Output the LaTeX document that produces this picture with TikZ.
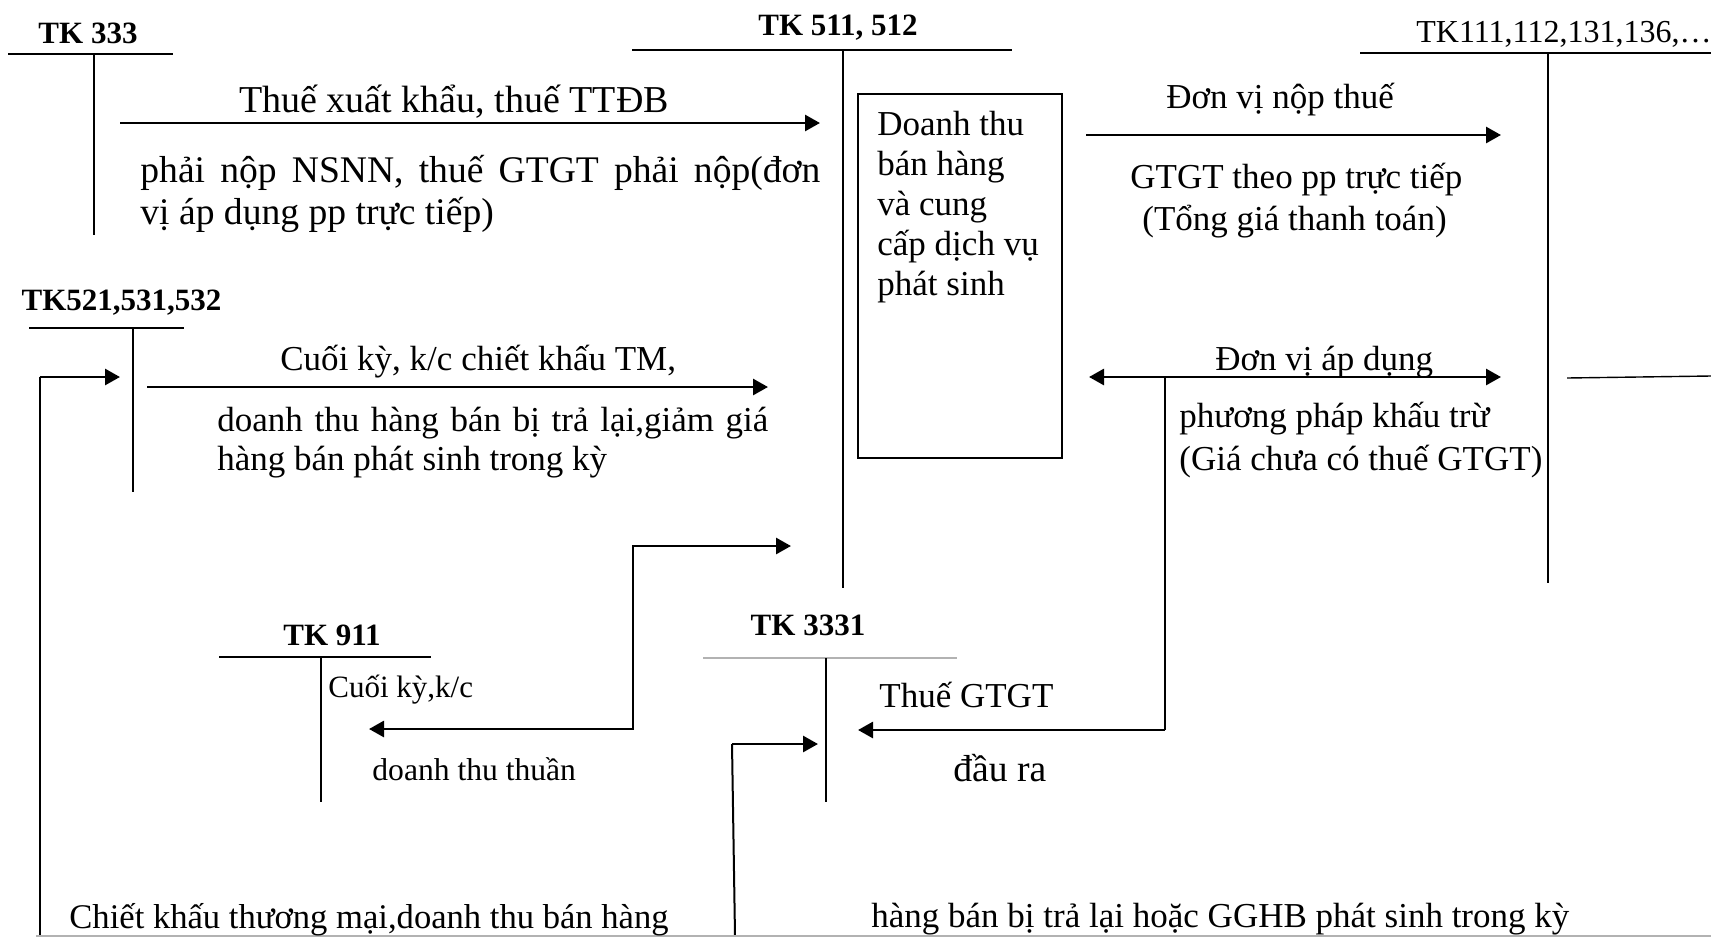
\documentclass[tikz,border=0pt]{standalone}
\usepackage{fontspec}
\setmainfont{Liberation Serif}
\usetikzlibrary{arrows.meta}
\begin{document}
\begin{tikzpicture}[x=0.5pt,y=-0.5pt,
  txt/.style={inner sep=0pt, anchor=base west, font=\fontsize{17.5}{21}\selectfont},
  big/.style={inner sep=0pt, anchor=base west, font=\fontsize{18.8}{22}\selectfont},
  small/.style={inner sep=0pt, anchor=base west, font=\fontsize{15.5}{19}\selectfont},
  acct/.style={inner sep=0pt, anchor=base, font=\fontsize{15.5}{19}\selectfont\bfseries},
  tline/.style={line width=0.7pt},
  feed/.style={line width=1pt},
  flow/.style={line width=1.4pt, -{Triangle[length=7.5pt,width=8pt]}},
  flowboth/.style={line width=1.4pt, {Triangle[length=7.5pt,width=8pt]}-{Triangle[length=7.5pt,width=8pt]}},
  rule/.style={line width=0.7pt, draw=black!30}
]
\useasboundingbox (0,0) rectangle (1711,937);

% ---------- T accounts ----------
\node[acct] (n333) at (88,43) {TK 333};
\draw[tline] (8,54) -- (173,54);
\draw[tline] (94,54) -- (94,235);

\node[acct] (n511) at (838,35) {TK 511, 512};
\draw[tline] (632,50) -- (1012,50);
\draw[tline] (843,50) -- (843,588);

\node[inner sep=0pt, anchor=base west, font=\fontsize{16}{19}\selectfont] (n111) at (1416,42) {TK111,112,131,136,…};
\draw[tline] (1360,53) -- (1711,53);
\draw[tline] (1548,53) -- (1548,583);

\node[acct] (n521) at (121.5,310) {TK521,531,532};
\draw[tline] (29,328) -- (184,328);
\draw[tline] (133,328) -- (133,492);

\node[acct] (n911) at (332,645) {TK 911};
\draw[tline] (219,657) -- (431,657);
\draw[tline] (321,657) -- (321,802);

\node[acct] (n3331) at (808,635) {TK 3331};
\draw[rule] (703,658) -- (957,658);
\draw[tline] (826,658) -- (826,802);

% ---------- revenue box ----------
\node[draw, line width=1pt, minimum width=102pt, minimum height=182pt,
      anchor=north west, inner sep=0pt] (box) at (857,93) {};
\foreach \t [count=\i] in {Doanh thu, bán hàng, và cung, cấp dịch vụ, phát sinh}
  \node[txt] (box\i) at (877,{135+40*(\i-1)}) {\t};

% ---------- connector end points ----------
\coordinate (a1s) at (120,123);  \coordinate (a1e) at (820,123);
\coordinate (a2s) at (1086,135); \coordinate (a2e) at (1501,135);
\coordinate (a3s) at (147,387);  \coordinate (a3e) at (768,387);
\coordinate (d1) at (1089,377);  \coordinate (d2) at (1501,377);
\coordinate (dv) at (1165,377);  \coordinate (dc) at (1165,730);
\coordinate (dt) at (858,730);
\coordinate (s1) at (369,729);   \coordinate (s2) at (633,546);
\coordinate (s3) at (791,546);
\coordinate (k1) at (39.5,936);  \coordinate (k2) at (39.5,377);
\coordinate (k3) at (120,377);
\coordinate (g1) at (735,936);   \coordinate (g2) at (732,744);
\coordinate (g3) at (818,744);
\coordinate (r1) at (1567,378);  \coordinate (r2) at (1711,376);
\coordinate (b1) at (36,936);    \coordinate (b2) at (1711,936);

% ---------- connectors ----------
\draw[flow] (a1s) -- (a1e);
\draw[flow] (a2s) -- (a2e);
\draw[flow] (a3s) -- (a3e);
\draw[flowboth] (d1) -- (d2);
\draw[tline] (dv) -- (dc);
\draw[flow] (dc) -- (dt);
\draw[flowboth] (s1) -| (s2) -- (s3);
\draw[feed] (k1) -- (k2);
\draw[flow] (k2) -- (k3);
\draw[feed] (g1) -- (g2);
\draw[flow] (g2) -- (g3);
\draw[tline] (r1) -- (r2);
\draw[rule] (b1) -- (b2);

% ---------- labels ----------
\node[big, font=\fontsize{19}{22}\selectfont] (t1) at (239,112) {Thuế xuất khẩu, thuế TTĐB};
\node[big] (t2) at (140,182) {\makebox[340pt][s]{phải nộp NSNN, thuế GTGT phải nộp(đơn}};
\node[big] (t3) at (140,224) {vị áp dụng pp trực tiếp)};

\node[txt] (u1) at (1166,108) {Đơn vị nộp thuế};
\node[txt] (u2) at (1130,188) {GTGT theo pp trực tiếp};
\node[txt] (u3) at (1142,230) {(Tổng giá thanh toán)};

\node[txt] (m1) at (280,370) {Cuối kỳ, k/c chiết khấu TM,};
\node[txt] (m2) at (217,431) {\makebox[275.5pt][s]{doanh thu hàng bán bị trả lại,giảm giá}};
\node[txt] (m3) at (217,470) {hàng bán phát sinh trong kỳ};

\node[txt] (v1) at (1215,370) {Đơn vị áp dụng};
\node[txt] (v2) at (1179,427) {phương pháp khấu trừ};
\node[txt] (v3) at (1179,470) {(Giá chưa có thuế GTGT)};

\node[small] (w1) at (328,697) {Cuối kỳ,k/c};
\node[small, font=\fontsize{15.8}{19}\selectfont] (w2) at (372,780) {doanh thu thuần};

\node[txt] (x1) at (879,707) {Thuế GTGT};
\node[big] (x2) at (953,781) {đầu ra};

\node[txt, font=\fontsize{17.3}{21}\selectfont] (y1) at (69,928) {Chiết khấu thương mại,doanh thu bán hàng};
\node[txt] (y2) at (871,927) {hàng bán bị trả lại hoặc GGHB phát sinh trong kỳ};
\end{tikzpicture}
\end{document}
